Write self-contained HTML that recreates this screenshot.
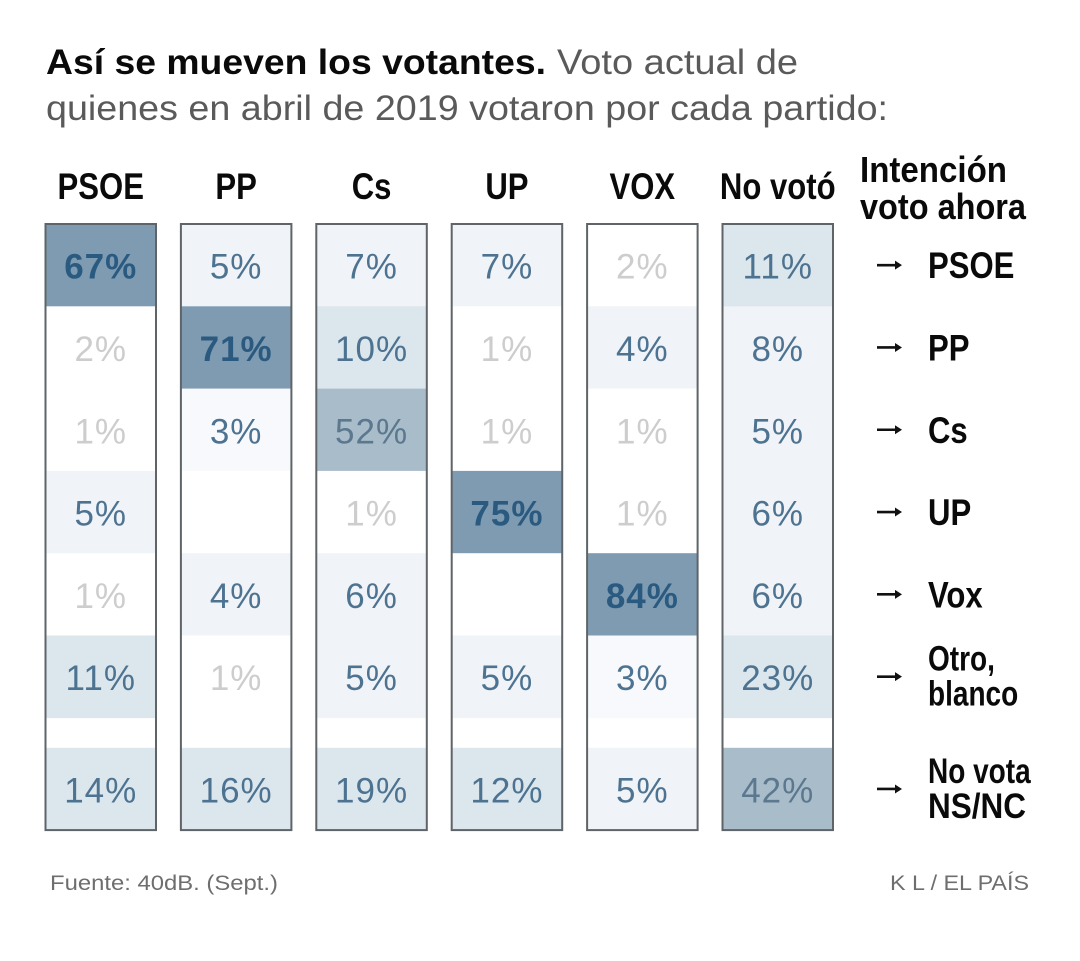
<!DOCTYPE html>
<html lang="es">
<head>
<meta charset="utf-8">
<title>Así se mueven los votantes</title>
<style>
html,body{margin:0;padding:0;background:#fff;width:1080px;height:961px;overflow:hidden}
svg{display:block}
text{font-family:"Liberation Sans",sans-serif}
.narrow{font-weight:700;fill:#0a0a0a}
</style>
</head>
<body>
<svg id="chart" xmlns="http://www.w3.org/2000/svg" width="1080" height="961" viewBox="0 0 1080 961">
  <rect width="1080" height="961" fill="#fff"/>
  <g>
    <text x="46" y="74" font-size="35" font-weight="700" fill="#0a0a0a" textLength="500" lengthAdjust="spacingAndGlyphs">Así se mueven los votantes.</text>
    <text x="557" y="74" font-size="35" fill="#5a5a5a" textLength="241" lengthAdjust="spacingAndGlyphs">Voto actual de</text>
    <text x="46" y="120" font-size="35" fill="#5a5a5a" textLength="842" lengthAdjust="spacingAndGlyphs">quienes en abril de 2019 votaron por cada partido:</text>
  </g>
  <g id="columns"></g>
  <g id="rows">
    <text class="narrow" x="860" y="182" font-size="36" textLength="147" lengthAdjust="spacingAndGlyphs">Intención</text>
    <text class="narrow" x="860" y="219" font-size="36" textLength="166" lengthAdjust="spacingAndGlyphs">voto ahora</text>
  </g>
  <text x="50" y="890" font-size="21" textLength="228" lengthAdjust="spacingAndGlyphs" fill="#6e6e6e">Fuente: 40dB. (Sept.)</text>
  <text x="890" y="890" font-size="21" textLength="139" lengthAdjust="spacingAndGlyphs" fill="#6e6e6e">K L / EL PAÍS</text>
</svg>
<script>
const parties = ['PSOE', 'PP', 'Cs', 'UP', 'VOX', 'No votó'];
const intentions = [['PSOE'], ['PP'], ['Cs'], ['UP'], ['Vox'], ['Otro,', 'blanco'], ['No vota', 'NS/NC']];
const psoeValues = [67, 2, 1, 5, 1, 11, 14];
const ppValues = [5, 71, 3, null, 4, 1, 16];
const csValues = [7, 10, 52, 1, 6, 5, 19];
const upValues = [7, 1, 1, 75, null, 5, 12];
const voxValues = [2, 4, 1, 1, 84, 3, 5];
const noVotoValues = [11, 8, 5, 6, 6, 23, 42];
const seriesValues = [psoeValues, ppValues, csValues, upValues, voxValues, noVotoValues];

const SVG_NS = 'http://www.w3.org/2000/svg';
const colLeft = 45.5, colWidth = 110.5, colStep = 135.4;
const rowTop = 224, rowHeight = 82.3, lastRowGap = 30;
const condense = 0.84;

function xCol(i) { return colLeft + i * colStep; }
function yRow(j) { return rowTop + j * rowHeight + (j === 6 ? lastRowGap : 0); }
function cellFill(v) {
  if (v === null || v <= 2) return '#ffffff';
  if (v === 3) return '#f7f9fc';
  if (v < 10) return '#f0f3f7';
  if (v < 30) return '#dce6ed';
  if (v < 60) return '#a9bcca';
  return '#7f9bb1';
}
function textFill(v) {
  if (v <= 2) return '#cdcdcd';
  if (v >= 60) return '#2a5a80';
  if (v >= 30) return '#5b788f';
  return '#4d7391';
}
function make(tag, attrs, parent) {
  const el = document.createElementNS(SVG_NS, tag);
  for (const k in attrs) el.setAttribute(k, attrs[k]);
  parent.appendChild(el);
  return el;
}
function squeeze(el, factor) {
  const len = el.getComputedTextLength();
  el.setAttribute('textLength', (len * factor).toFixed(1));
  el.setAttribute('lengthAdjust', 'spacingAndGlyphs');
}

const columnsGroup = document.getElementById('columns');
const rowsGroup = document.getElementById('rows');

parties.forEach(function (party, i) {
  const group = make('g', {}, columnsGroup);
  
  
  const cx = xCol(i) + colWidth / 2;

  const head = make('text', {
    x: cx, y: 199, 'font-size': 37, 'text-anchor': 'middle', 'class': 'narrow'
  }, group);
  
  
  head.textContent = party;
  squeeze(head, condense);

  seriesValues[i].forEach(function (v, j) {
    const y = yRow(j);
    const cell = make('rect', {
      x: xCol(i), y: y, width: colWidth, height: rowHeight + 0.3, fill: cellFill(v)
    }, group);
    
    
    if (v === null) return;
    const label = make('text', {
      x: cx, y: y + rowHeight / 2 + 13.5, 'font-size': 35, 'text-anchor': 'middle',
      fill: textFill(v), 'font-weight': v >= 60 ? 700 : 400, 'letter-spacing': 1
    }, group);
    
    
    label.textContent = v + '%';
  });

  const frame = make('rect', {
    x: xCol(i), y: rowTop, width: colWidth, height: yRow(6) + rowHeight - rowTop,
    fill: 'none', stroke: '#5e6468', 'stroke-width': 2
  }, group);
  
  
});

intentions.forEach(function (lines, j) {
  const cy = yRow(j) + rowHeight / 2;
  const arrow = make('g', { stroke: '#111', fill: '#111' }, rowsGroup);
  
  
  make('line', { x1: 877, x2: 897, y1: cy, y2: cy, 'stroke-width': 2.6 }, arrow);
  make('path', { d: 'M 895 ' + (cy - 4.5) + ' L 902 ' + cy + ' L 895 ' + (cy + 4.5) + ' Z', stroke: 'none' }, arrow);

  lines.forEach(function (line, k) {
    const single = lines.length === 1;
    const t = make('text', {
      x: 928,
      y: single ? cy + 13 : cy - 6 + k * 35,
      'font-size': single ? 37 : 35,
      'class': 'narrow'
    }, rowsGroup);
    
    
    t.textContent = line;
    squeeze(t, single ? condense : (line === 'NS/NC' ? 0.9 : 0.8));
  });
});
</script>
</body>
</html>
